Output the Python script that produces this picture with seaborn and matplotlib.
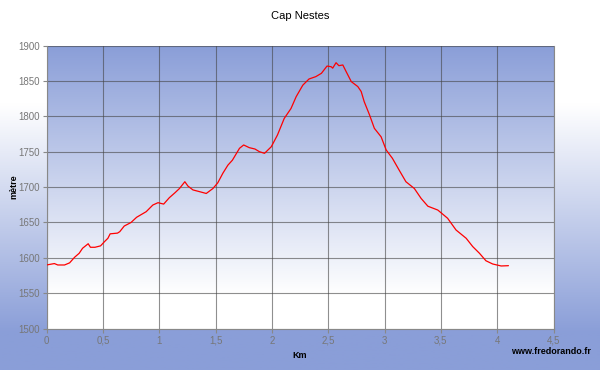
import numpy as np
import pandas as pd
import matplotlib
matplotlib.use("Agg")
import matplotlib.pyplot as plt
import seaborn as sns
from matplotlib.colors import LinearSegmentedColormap

km = [0.00, 0.07, 0.10, 0.16, 0.205, 0.25, 0.29, 0.32, 0.37, 0.39, 0.43, 0.48, 0.515, 0.545,
      0.565, 0.63, 0.65, 0.69, 0.75, 0.80, 0.885, 0.944, 0.99, 1.04, 1.09, 1.14, 1.18, 1.228,
      1.255, 1.30, 1.36, 1.418, 1.477, 1.52, 1.565, 1.61, 1.65, 1.713, 1.75, 1.80, 1.85, 1.89,
      1.935, 1.995, 2.05, 2.11, 2.17, 2.216, 2.275, 2.33, 2.39, 2.44, 2.49, 2.527, 2.54, 2.57,
      2.595, 2.63, 2.66, 2.705, 2.763, 2.793, 2.82, 2.867, 2.91, 2.97, 3.015, 3.07, 3.13, 3.19,
      3.265, 3.325, 3.385, 3.473, 3.56, 3.635, 3.725, 3.783, 3.843, 3.90, 3.96, 4.035, 4.10]
altitude = [1590, 1592, 1590, 1590, 1593, 1601, 1606.5, 1613.6, 1620, 1615, 1615, 1617, 1623, 1627.7,
            1634, 1635, 1637, 1645, 1650, 1657.4, 1665.3, 1674.7, 1678, 1676, 1685, 1692, 1698, 1707.6,
            1701.5, 1696, 1693.5, 1691, 1698, 1706, 1719.5, 1731, 1738, 1754.8, 1759.5, 1755.7, 1753.8, 1750,
            1747.7, 1757, 1773.6, 1797, 1811, 1827.7, 1844, 1852.7, 1856, 1860.7, 1871, 1870, 1868, 1875.7,
            1871.5, 1872.5, 1863, 1849, 1842, 1835, 1820.6, 1802, 1783, 1771, 1752.4, 1740.7, 1724, 1707.6,
            1698, 1684, 1673, 1667.6, 1656, 1639.4, 1627.7, 1616, 1606.5, 1596, 1591.4, 1588.6, 1589]
x_ticks = [0, 0.5, 1, 1.5, 2, 2.5, 3, 3.5, 4, 4.5]
x_labels = ["0", "0,5", "1", "1,5", "2", "2,5", "3", "3,5", "4", "4,5"]
y_ticks = [1500, 1550, 1600, 1650, 1700, 1750, 1800, 1850, 1900]

df = pd.DataFrame({"km": km, "alt": altitude})

sns.set_theme(style="white")
plt.rcParams['font.family'] = ['Liberation Sans', 'DejaVu Sans']

fig = plt.figure(figsize=(6, 3.7), dpi=100)
blue = (138/255, 158/255, 216/255)

# figure background gradient (white top -> blue bottom)
bg = fig.add_axes([0, 0, 1, 1], zorder=-10)
cmap_bg = LinearSegmentedColormap.from_list("bg", [(0, blue), (0.1, blue), (0.72, (1, 1, 1)), (1, (1, 1, 1))])
grad = np.linspace(0, 1, 256).reshape(-1, 1)
bg.imshow(grad, aspect="auto", cmap=cmap_bg, extent=[0, 1, 0, 1], origin="lower")
bg.axis("off")

ax = fig.add_axes([46.5/600, 1 - 328.7/370, 507/600, 283.2/370])
cmap_ax = LinearSegmentedColormap.from_list("ax", [(0, (1, 1, 1)), (0.12, (1, 1, 1)), (1, blue)])
ax.imshow(grad, aspect="auto", cmap=cmap_ax, extent=[0, 4.5, 1500, 1900], origin="lower", zorder=0)

sns.lineplot(data=df, x="km", y="alt", ax=ax, color="#ff0000", linewidth=0.9, zorder=3)

ax.set_xlim(0, 4.5)
ax.set_ylim(1500, 1900)
ax.set_xticks(x_ticks)
ax.set_xticklabels(x_labels)
ax.set_yticks(y_ticks)
ax.grid(True, color="#444444", linewidth=0.8, alpha=0.6)
for line in ax.get_xgridlines() + ax.get_ygridlines():
    line.set_zorder(2)
ax.tick_params(axis="both", labelsize=7, colors="#888888", labelcolor="#777777",
               direction="out", length=3, width=0.8, bottom=True, left=True, pad=2)
for s in ["left", "bottom", "right"]:
    ax.spines[s].set_color("#888888")
    ax.spines[s].set_linewidth(0.8)
ax.spines["top"].set_visible(False)

ax.set_xlabel("Km", fontsize=6.5, fontweight="bold", color="#000000", labelpad=4)
ax.set_ylabel("")
fig.text(14/600, 1 - 187/370, "mètre", rotation=90, ha="center", va="center",
         fontsize=6.5, fontweight="bold", color="#000000")
fig.text(0.5, 1 - 16/370, "Cap Nestes", ha="center", va="center", fontsize=8, color="#000000")
fig.text(0.985, 1 - 352/370, "www.fredorando.fr", ha="right", va="center", fontsize=6.5,
         fontweight="bold", color="#000000")

fig.savefig("out.png", dpi=100)
